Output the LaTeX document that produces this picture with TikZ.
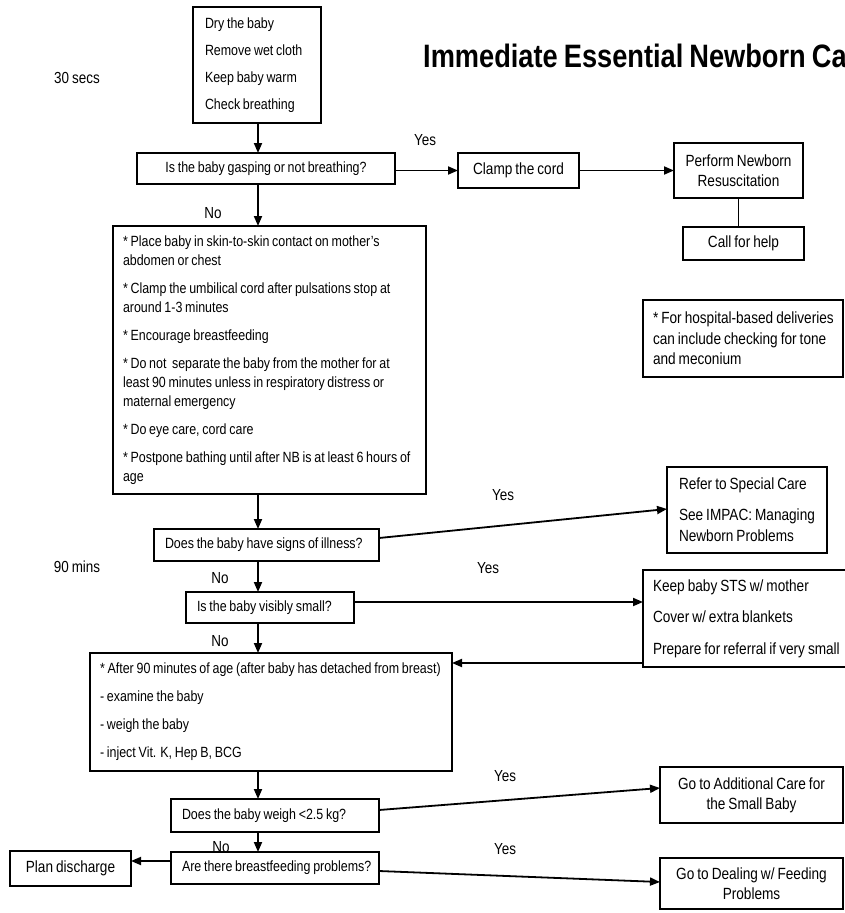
\documentclass[tikz,border=0pt]{standalone}
\usepackage{fontspec}
\setmainfont{Liberation Sans}[FakeStretch=0.84, WordSpace=0.8]
\usetikzlibrary{arrows.meta}
\newcommand{\mln}[1]{\mbox{#1}}
\begin{document}
\begin{tikzpicture}[x=1pt,y=1pt,
  box/.style={draw, line width=1.5pt, inner sep=0pt, outer sep=0pt,
    execute at begin node={\spaceskip=0pt\xspaceskip=0pt}},
  lf/.style={font=\fontsize{14.8}{18}\selectfont},
  rf/.style={font=\fontsize{16.2}{20}\selectfont},
  arr/.style={line width=1.8pt, -{Triangle[length=10pt,width=8pt]}},
  plain/.style={line width=1.8pt},
  lbl/.style={font=\fontsize{16}{19}\selectfont, inner sep=0pt}]
\useasboundingbox (0,0) rectangle (845,-913);
\clip (0,0) rectangle (845,-913);
\coordinate (sp) at (258,0);

\node[anchor=west, inner sep=0pt, font=\fontsize{32.4}{33}\selectfont\bfseries] (title) at (423,-56) {Immediate Essential Newborn Care};

\node[lbl] (t30) at (77,-78) {30 secs};
\node[lbl] (t90) at (77,-567) {90 mins};

\node[box, font=\fontsize{14.8}{27}\selectfont, text width=104pt, align=flush left, minimum width=128pt, minimum height=116pt] (care1) at (257,-65)
  {Dry the baby\\Remove wet cloth\\Keep baby warm\\Check breathing};

\node[box, lf, align=center, minimum width=258pt, minimum height=31pt] (q1) at (266,-168.5) {Is the baby gasping or not breathing?};
\node[box, rf, align=center, minimum width=121pt, minimum height=35pt] (clamp) at (518.5,-170.5) {Clamp the cord};
\node[box, rf, align=center, minimum width=129pt, minimum height=55pt] (resus) at (738.5,-170.5) {Perform Newborn\\Resuscitation};
\node[box, rf, align=center, minimum width=121pt, minimum height=33pt] (help) at (743.5,-243.5) {Call for help};

\node[box, font=\fontsize{14.8}{19}\selectfont, text width=293pt, align=flush left, minimum width=313pt, minimum height=268pt] (big) at (269.5,-360)
  {\mln{* Place baby in skin-to-skin contact on mother's}\\
   abdomen or chest\\[9pt]
   \mln{* Clamp the umbilical cord after pulsations stop at}\\
   around 1-3 minutes\\[9pt]
   * Encourage breastfeeding\\[9pt]
   \mln{* Do not\ \ separate the baby from the mother for at}\\
   \mln{least 90 minutes unless in respiratory distress or}\\
   maternal emergency\\[9pt]
   * Do eye care, cord care\\[9pt]
   \mln{* Postpone bathing until after NB is at least 6 hours of}\\
   age};

\node[box, font=\fontsize{16.2}{20.5}\selectfont, text width=180pt, align=flush left, minimum width=200pt, minimum height=77pt] (note) at (743,-338.5)
  {\mln{* For hospital-based deliveries}\\\mln{can include checking for tone}\\and meconium};

\node[box, lf, text width=203pt, align=flush left, minimum width=225pt, minimum height=32pt] (q2) at (266.5,-545) {\mln{Does the baby have signs of illness?}};
\node[box, font=\fontsize{16.2}{21}\selectfont, text width=136pt, align=flush left, minimum width=160pt, minimum height=86pt] (refer) at (747,-510)
  {\mln{Refer to Special Care}\\[10pt]\mln{See IMPAC: Managing}\\\mln{Newborn Problems}};

\node[box, lf, text width=146pt, align=flush left, minimum width=168pt, minimum height=31pt] (q3) at (270,-607.5) {\mln{Is the baby visibly small?}};
\node[box, font=\fontsize{16.2}{31.5}\selectfont, text width=187pt, align=flush left, minimum width=207pt, minimum height=97pt] (sts) at (746.5,-618.5)
  {\mln{Keep baby STS w/ mother}\\\mln{Cover w/ extra blankets}\\\mln{Prepare for referral if very small}};

\node[box, font=\fontsize{14.8}{28}\selectfont, text width=342pt, align=flush left, minimum width=362pt, minimum height=118pt] (after) at (271,-712)
  {\mln{* After 90 minutes of age (after baby has detached from breast)}\\- examine the baby\\- weigh the baby\\\mln{- inject Vit. K, Hep B, BCG}};

\node[box, lf, text width=186pt, align=flush left, minimum width=208pt, minimum height=33pt] (q4) at (275,-815.5) {\mln{Does the baby weigh <2.5 kg?}};
\node[box, lf, text width=186pt, align=flush left, minimum width=208pt, minimum height=32pt] (q5) at (275,-868) {\mln{Are there breastfeeding problems?}};
\node[box, rf, align=center, minimum width=121pt, minimum height=35pt] (plan) at (70.5,-868.5) {Plan discharge};
\node[box, rf, align=center, minimum width=183pt, minimum height=56pt] (addl) at (751.5,-795) {Go to Additional Care for\\the Small Baby};
\node[box, rf, align=center, minimum width=183pt, minimum height=51pt] (feed) at (751.5,-883.5) {Go to Dealing w/ Feeding\\Problems};

% labels
\node[lbl] (y1) at (425,-140) {Yes};
\node[lbl] (n1) at (213,-213) {No};
\node[lbl] (y2) at (503,-495) {Yes};
\node[lbl] (y3) at (488,-568) {Yes};
\node[lbl] (n2) at (220,-578) {No};
\node[lbl] (n3) at (220,-641) {No};
\node[lbl] (y4) at (505,-776) {Yes};
\node[lbl] (y5) at (505,-849) {Yes};
\node[lbl] (n4) at (221,-847) {No};

% connectors
\draw[arr] (care1.south -| sp) -- (q1.north -| sp);
\draw[arr] (q1.east |- clamp.west) -- (clamp.west);
\draw[arr] (clamp.east) -- (clamp.east -| resus.west);
\draw[plain] (resus.south) -- (resus.south |- help.north);
\draw[arr] (q1.south -| sp) -- (big.north -| sp);
\draw[arr] (big.south -| sp) -- (q2.north -| sp);
\draw[arr] ([yshift=7pt]q2.east) -- ([yshift=1pt]refer.west);
\draw[arr] (q2.south -| sp) -- (q3.north -| sp);
\draw[arr] ([yshift=5.5pt]q3.east) -- ([yshift=5.5pt]q3.east -| sts.west);
\draw[arr] ([yshift=4pt]sts.south west) -- ([yshift=4pt]sts.south west -| after.east);
\draw[arr] (q3.south -| sp) -- (after.north -| sp);
\draw[arr] (after.south -| sp) -- (q4.north -| sp);
\draw[arr] ([yshift=5.5pt]q4.east) -- ([yshift=7pt]addl.west);
\draw[arr] (q4.south -| sp) -- (q5.north -| sp);
\draw[arr] ([yshift=-3pt]q5.east) -- ([yshift=1.5pt]feed.west);
\draw[arr] ([yshift=7pt]q5.west) -- ([yshift=7pt]q5.west -| plan.east);
\end{tikzpicture}
\end{document}
